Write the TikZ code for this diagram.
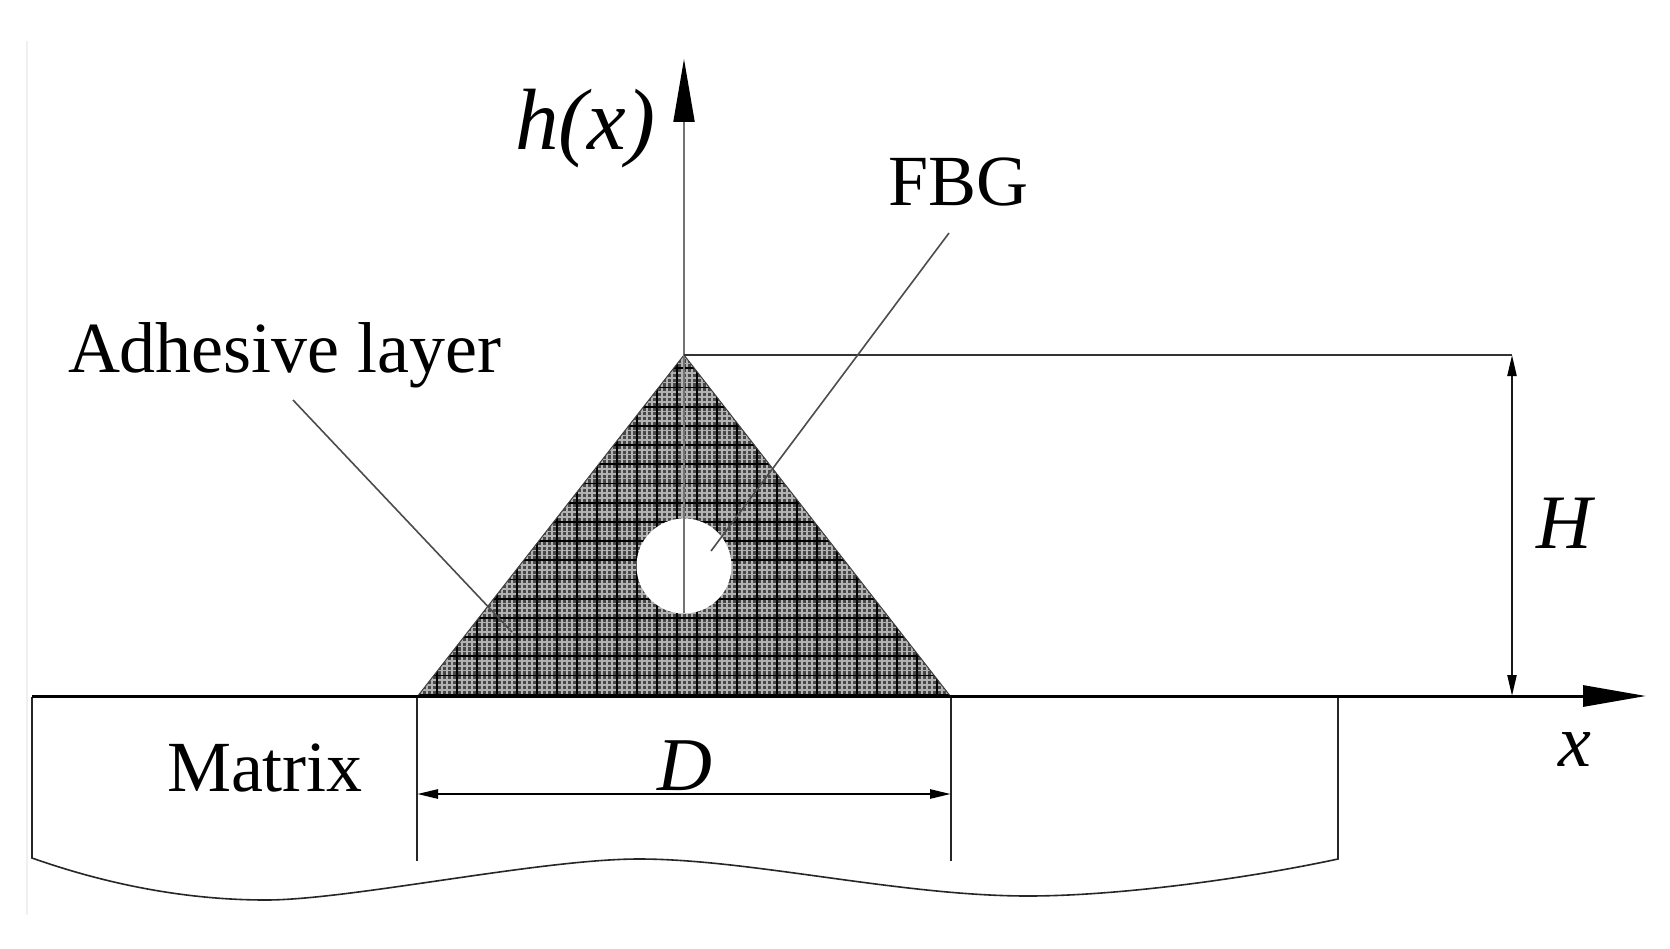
\documentclass[tikz,border=0pt]{standalone}
\usepackage{fontspec}
\setmainfont{Liberation Serif}
\usetikzlibrary{arrows.meta}
\tikzset{
  x=1pt,y=-1pt,
  lab/.style={inner sep=0pt,outer sep=0pt,text=black,anchor=base west},
  axis/.style={line width=3pt,black},
  thinl/.style={line width=1.6pt,black!85},
  leader/.style={line width=1.6pt,black!70},
  filltip/.style={-{Triangle[length=63pt,width=21pt,color=black]}},
  dimtip/.style={{Triangle[length=21pt,width=9pt,color=black]}-{Triangle[length=21pt,width=9pt,color=black]}},
}
\newcommand{\txtsize}[1]{\fontsize{#1}{#1}\selectfont}
\begin{document}
\begin{tikzpicture}
\useasboundingbox (0,0) rectangle (1670,949);
\fill[white] (0,0) rectangle (1670,949);
% named points
\coordinate (apex) at (684,355);
\coordinate (bl) at (417,697);
\coordinate (br) at (951,697);
\coordinate (mL) at (32,697);
\coordinate (mR) at (1338,697);
\coordinate (mLb) at (32,858);
\coordinate (mRb) at (1338,859);
\coordinate (xTip) at (1646,696);
\coordinate (xFoot) at (32,696);
\coordinate (yTip) at (684,59);
\coordinate (yFoot) at (684,613);
\coordinate (Hx) at (1512,355);
\coordinate (Hb) at (1512,696);
\coordinate (dlB) at (417,861);
\coordinate (drB) at (951,861);
\coordinate (dl) at (417,794);
\coordinate (dr) at (951,794);
\coordinate (fbgS) at (949,233);
\coordinate (fbgE) at (711,551);
\coordinate (adhS) at (293,400);
\coordinate (adhE) at (512,632);
% faint image edge
\draw[line width=1.5pt,black!6] (27,41) -- (27,915);
% adhesive layer
\begin{scope}
  \clip (apex) -- (br) -- (bl) -- cycle;
  \fill[black!72] (400,340) rectangle (970,700);
  \foreach \i in {0,...,27} {
    \foreach \d in {5,10,15} {
      \draw[black!30,line width=1.5pt] ({417+20*\i+\d},340) -- ({417+20*\i+\d},700);
    }
  }
  \foreach \i in {-5,...,14} {
    \foreach \d in {4.8,9.6,14.4} {
      \draw[black!30,line width=1.5pt] (400,{445+19.2*\i+\d}) -- (970,{445+19.2*\i+\d});
    }
  }
  \foreach \i in {0,...,27} {
    \draw[black,line width=1.8pt] ({417+20*\i},340) -- ({417+20*\i},700);
  }
  \foreach \i in {-5,...,14} {
    \draw[black,line width=1.8pt] (400,{445+19.2*\i}) -- (970,{445+19.2*\i});
  }
\end{scope}
\draw[line width=1pt,black!75] (apex) -- (br) (bl) -- (apex);
% fibre
\node[circle,fill=white,draw=none,minimum size=95pt,inner sep=0pt] (fbgc) at (684,566) {};
% matrix outline with wavy bottom
\draw[thinl] (mL) -- (mLb)
  .. controls (100,882) and (180,900) .. (266,900)
  .. controls (350,900) and (540,859) .. (639,859)
  .. controls (750,859) and (900,896) .. (1028,896)
  .. controls (1120,896) and (1250,878) .. (mRb) -- (mR);
\draw[thinl] (bl) -- (dlB);
\draw[thinl] (br) -- (drB);
% axes
\draw[line width=2pt,black!55,filltip] (yFoot) -- (yTip);
\draw[axis,filltip] (xFoot) -- (xTip);
% H dimension
\draw[line width=2.2pt,black!80] (apex) -- (Hx);
\draw[line width=2.2pt,black!90,dimtip] (Hx) -- (Hb);
% D dimension
\draw[line width=2.6pt,black,dimtip] (dl) -- (dr);
% leaders
\draw[leader] (fbgS) -- (fbgE);
\draw[leader] (adhS) -- (adhE);
% labels
\node[lab] (tH) at (515,150) {\txtsize{87}\itshape h(x)};
\node[lab] (tF) at (888,206) {\txtsize{72}FBG};
\node[lab] (tA) at (68,373) {\txtsize{72}Adhesive layer};
\node[lab] (tM) at (167,791) {\txtsize{72}Matrix};
\node[lab] (tD) at (657,790) {\txtsize{76}\itshape D};
\node[lab] (tx) at (1558,766) {\txtsize{74}\itshape x};
\node[lab] (tHH) at (1536,548) {\txtsize{77}\itshape H};
\end{tikzpicture}
\end{document}
